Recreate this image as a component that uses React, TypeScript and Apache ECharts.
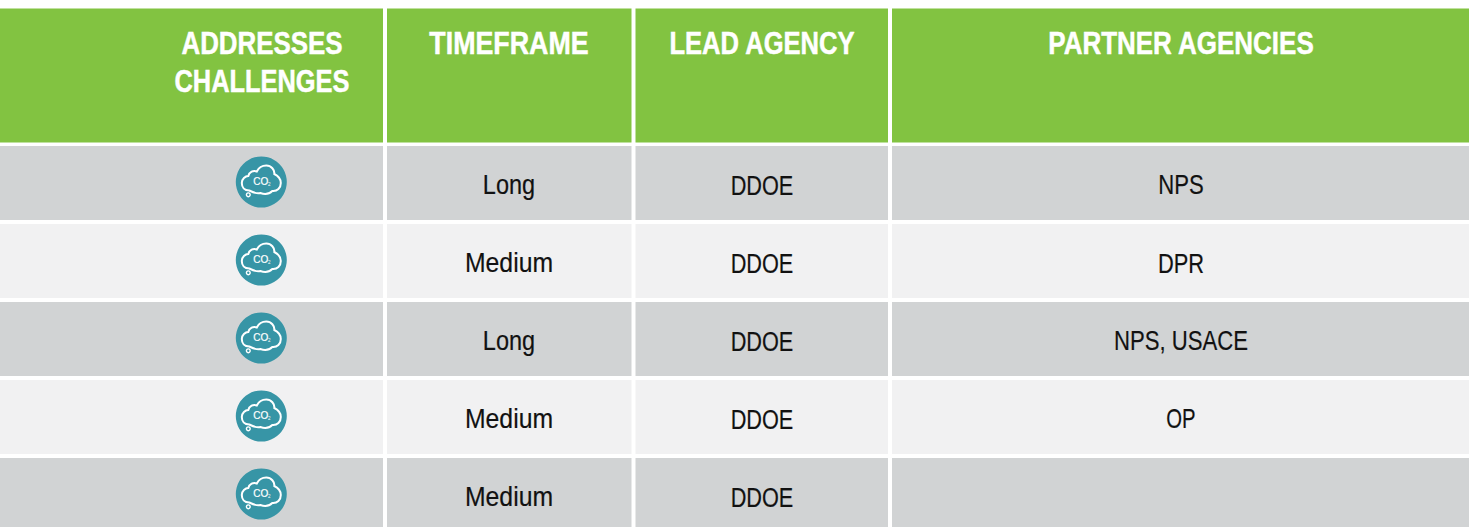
import React, { useEffect, useRef } from "react";
import * as echarts from "echarts";

const headers = [["ADDRESSES", "CHALLENGES"], ["TIMEFRAME"], ["LEAD AGENCY"], ["PARTNER AGENCIES"]];
const timeframes = ["Long", "Medium", "Long", "Medium", "Medium"];
const leadAgencies = ["DDOE", "DDOE", "DDOE", "DDOE", "DDOE"];
const partnerAgencies = ["NPS", "DPR", "NPS, USACE", "OP", ""];
const iconText = "CO";
const iconSub = "2";

const W = 1469;
const H = 527;
const GREEN = "#82c341";
const GREY = "#d1d3d4";
const LIGHT = "#f1f1f2";
const TEAL = "#3795a6";
const FONT = '"Liberation Sans", sans-serif';

const colEdges: [number, number][] = [[0, 383], [387, 631.5], [635.5, 888], [892, 1469]];
const colCenters = [262, 509, 762, 1181];
const rowEdges: [number, number][] = [[146, 220], [224, 298], [302, 376], [380, 454], [458, 527]];

// horizontal condensing per string: no condensed font is installed
const condense: Record<string, number> = {
  ADDRESSES: 0.835,
  CHALLENGES: 0.82,
  TIMEFRAME: 0.865,
  "LEAD AGENCY": 0.825,
  "PARTNER AGENCIES": 0.838,
  Long: 0.84,
  Medium: 0.885,
  DDOE: 0.775,
  NPS: 0.79,
  DPR: 0.78,
  "NPS, USACE": 0.79,
  OP: 0.725,
};

const CLOUD =
  "M-12,8.5 C-17,8.5 -19.5,5 -19.5,1 C-19.5,-3 -16,-6 -13,-6 C-12,-10 -8,-12 -4.5,-10.5 " +
  "C-2,-15.5 2,-16.5 5,-16.5 C10,-16.5 13.5,-12 13,-8 C17,-6 19.5,-3 19.5,1 C19.5,6 16,9.5 11,9 " +
  "C8,12 3,12.5 -1,11 C-4,12 -8,10.5 -12,8.5 Z";

echarts.graphic.registerShape("cloudIcon", echarts.graphic.extendPath(CLOUD, {}));

function rect(x0: number, x1: number, y0: number, y1: number, fill: string) {
  return { type: "rect", shape: { x: x0, y: y0, width: x1 - x0, height: y1 - y0 }, style: { fill }, silent: true };
}

function text(t: string, x: number, y: number, size: number, fill: string, weight: string, outline: number) {
  return {
    type: "text",
    x,
    y,
    scaleX: condense[t] ?? 1,
    silent: true,
    style: {
      text: t,
      fill,
      stroke: fill,
      lineWidth: outline,
      fontFamily: FONT,
      fontSize: size,
      fontWeight: weight,
      textAlign: "center",
      verticalAlign: "middle",
    },
  };
}

function icon(cx: number, cy: number) {
  return [
    { type: "circle", shape: { cx, cy, r: 25.5 }, style: { fill: TEAL }, silent: true },
    {
      type: "cloudIcon",
      x: cx,
      y: cy,
      silent: true,
      style: { fill: "none", stroke: "#ffffff", lineWidth: 2 },
    },
    { type: "circle", shape: { cx: cx - 13, cy: cy + 12.8, r: 1.9 }, style: { fill: "none", stroke: "#ffffff", lineWidth: 1.4 }, silent: true },
    {
      type: "text",
      x: cx - 0.5,
      y: cy - 1,
      silent: true,
      style: { text: iconText, fill: "#ffffff", stroke: "#ffffff", lineWidth: 0.2, fontFamily: FONT, fontSize: 10, textAlign: "center", verticalAlign: "middle" },
    },
    {
      type: "text",
      x: cx + 8,
      y: cy + 2,
      silent: true,
      style: { text: iconSub, fill: "#ffffff", fontFamily: FONT, fontSize: 4.5, textAlign: "center", verticalAlign: "middle" },
    },
  ];
}

function buildElements() {
  const els: any[] = [];
  colEdges.forEach(([x0, x1]) => els.push(rect(x0, x1, 8.5, 142.5, GREEN)));
  rowEdges.forEach(([y0, y1], r) => {
    colEdges.forEach(([x0, x1]) => els.push(rect(x0, x1, y0, y1, r % 2 === 0 ? GREY : LIGHT)));
  });
  headers.forEach((lines, i) => {
    lines.forEach((line, l) => {
      els.push(text(line, colCenters[i], 43 + l * 38, 31, "#ffffff", "bold", 0.5));
    });
  });
  rowEdges.forEach(([y0], r) => {
    const textY = y0 + 38.5;
    els.push(...icon(261.3, y0 + 36));
    els.push(text(timeframes[r], colCenters[1], textY, 28, "#111111", "normal", 0.2));
    els.push(text(leadAgencies[r], colCenters[2], textY, 28, "#111111", "normal", 0.2));
    if (partnerAgencies[r]) els.push(text(partnerAgencies[r], colCenters[3], textY, 28, "#111111", "normal", 0.2));
  });
  return els;
}

export default function App() {
  const ref = useRef<HTMLDivElement>(null);
  useEffect(() => {
    const chart = echarts.init(ref.current!, null, { renderer: "svg" });
    chart.setOption({
      animation: false,
      backgroundColor: "#ffffff",
      graphic: { elements: buildElements() },
    });
    return () => chart.dispose();
  }, []);
  return <div ref={ref} style={{ position: "absolute", left: 0, top: 0, width: W, height: H }} />;
}
